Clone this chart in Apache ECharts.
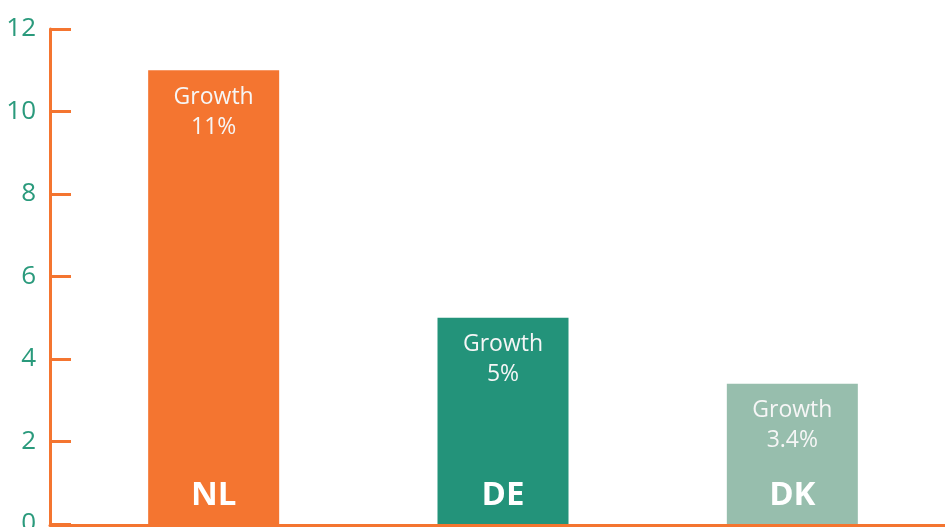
<!DOCTYPE html>
<html>
<head>
<meta charset="utf-8">
<script src="https://cdn.jsdelivr.net/npm/echarts@6/dist/echarts.min.js"></script>
<style>html,body{margin:0;padding:0;background:#fff}#c{width:945px;height:527px}</style>
</head>
<body>
<div id="c"></div>
<script>
var categories = ['NL', 'DE', 'DK'];
var values = [11, 5, 3.4];
var growthLabels = ['11%', '5%', '3.4%'];
var barColors = ['#F47530', '#23937A', '#97BEAD'];
var yTicks = [0, 2, 4, 6, 8, 10, 12];

var orange = '#F47530';
var teal = '#2A9A7C';
var font = 'Open Sans';

var chart = echarts.init(document.getElementById('c'));
chart.setOption({
  animation: false,
  grid: [
    { left: 69, right: 8, top: 29, bottom: 3, containLabel: false, outerBoundsMode: 'none' },
    { left: 50, right: 0, top: 29, bottom: 2, containLabel: false, outerBoundsMode: 'none' }
  ],
  xAxis: [
    { type: 'category', data: categories, gridIndex: 0,
      axisLine: { show: false }, axisTick: { show: false }, axisLabel: { show: false } },
    { type: 'value', gridIndex: 1, min: 0, max: 1,
      axisLine: { show: true, lineStyle: { color: orange, width: 3 } },
      axisTick: { show: false }, axisLabel: { show: false }, splitLine: { show: false } }
  ],
  yAxis: [
    { type: 'value', gridIndex: 0, min: yTicks[0], max: yTicks[yTicks.length - 1], interval: 2,
      offset: 19,
      axisLine: { show: true, lineStyle: { color: orange, width: 3 } },
      axisTick: { show: true, inside: true, length: 21, lineStyle: { color: orange, width: 3 } },
      axisLabel: { color: teal, fontSize: 26, fontFamily: font, margin: 14 },
      splitLine: { show: false } },
    { type: 'value', gridIndex: 1, show: false, min: 0, max: 1 }
  ],
  series: [
    {
      type: 'bar', xAxisIndex: 0, yAxisIndex: 0, barWidth: 131,
      data: values.map(function (v, i) { return { value: v, itemStyle: { color: barColors[i] } }; }),
      label: {
        show: true, position: 'insideTop', distance: 12,
        color: '#F6F6F6', fontSize: 23, fontFamily: font, lineHeight: 30, align: 'center',
        formatter: function (p) { return 'Growth\n' + growthLabels[p.dataIndex]; }
      }
    },
    {
      type: 'bar', xAxisIndex: 0, yAxisIndex: 0, barWidth: 131, barGap: '-100%',
      data: values,
      itemStyle: { color: 'rgba(0,0,0,0)' },
      label: {
        show: true, position: 'insideBottom', distance: 12,
        color: '#FFFFFF', fontSize: 33, fontWeight: 'bold', fontFamily: font,
        formatter: '{b}'
      },
      z: 3
    }
  ]
});
</script>
</body>
</html>
